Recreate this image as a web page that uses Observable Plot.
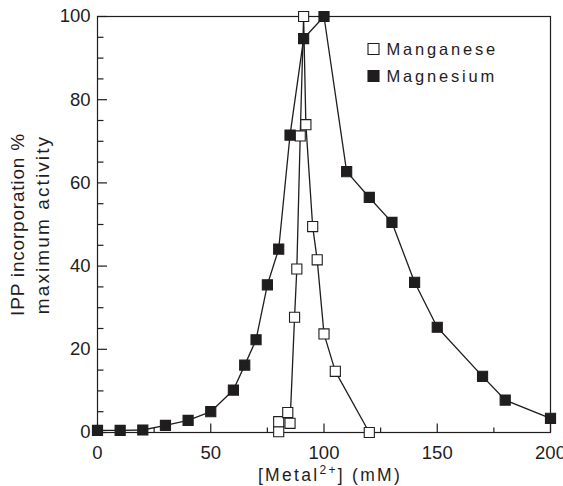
<!DOCTYPE html>
<html><head><meta charset="utf-8">
<script src="https://cdn.jsdelivr.net/npm/d3@7"></script>
<script src="https://cdn.jsdelivr.net/npm/@observablehq/plot@0.6"></script>
<style>body{margin:0;background:#fff}</style>
</head><body><div id="chart"></div>
<script>
const xTicks = [0, 50, 100, 150, 200];
const xMinorTicks = [25, 75, 125, 175];
const yTicks = [0, 20, 40, 60, 80, 100];
const yMinorTicks = [5, 10, 15, 25, 30, 35, 45, 50, 55, 65, 70, 75, 85, 90, 95];
const seriesNames = ["Manganese", "Magnesium"];
const xTitle = "[Metal2+] (mM)";
const yTitleLines = ["IPP incorporation %", "maximum activity"];

const mnConc = [80, 80, 84, 85, 87, 88, 89.5, 91, 92, 95, 97, 100, 105, 120];
const mnActivity = [0.2, 2.6, 4.8, 2.2, 27.7, 39.3, 71.3, 100, 74, 49.5, 41.5, 23.7, 14.7, 0];
const mgConc = [0, 10, 20, 30, 40, 50, 60, 65, 70, 75, 80, 85, 91, 100, 110, 120, 130, 140, 150, 170, 180, 200];
const mgActivity = [0.5, 0.5, 0.6, 1.7, 2.9, 5.0, 10.2, 16.2, 22.3, 35.5, 44.1, 71.5, 94.7, 100, 62.7, 56.5, 50.5, 36.1, 25.3, 13.5, 7.8, 3.4];

const mnData = mnConc.map((c, i) => ({metal: seriesNames[0], conc: c, act: mnActivity[i]}));
const mgData = mgConc.map((c, i) => ({metal: seriesNames[1], conc: c, act: mgActivity[i]}));

const ink = "#1f1d1e";
const fills = ["#fff", ink];

const legendMarks = seriesNames.flatMap((name, i) => [
  Plot.dot([name], {frameAnchor: "top-left", dx: 276, dy: 32.5 + 27 * i, symbol: "square", r: 6.2, fill: fills[i], stroke: ink, strokeWidth: 1.1}),
  Plot.text([name], {text: d => d, frameAnchor: "top-left", dx: 289, dy: 33 + 27 * i, textAnchor: "start", lineAnchor: "middle", fontSize: 16.5, fill: ink})
]);

const chart = Plot.plot({
  width: 563, height: 486,
  marginLeft: 97, marginRight: 13, marginTop: 16, marginBottom: 54,
  x: {domain: [0, 200], label: null},
  y: {domain: [0, 100], label: null},
  style: {fontFamily: "'Liberation Sans', Arial, sans-serif", fontSize: "18px", color: ink, background: "#fff"},
  marks: [
    Plot.axisX(xMinorTicks, {tickSize: -4.5, tickFormat: () => "", label: null, strokeWidth: 1.2}),
    Plot.axisX(xTicks, {tickSize: -8.5, tickFormat: () => "", label: null, strokeWidth: 1.2}),
    Plot.axisX(xTicks, {tickSize: 0, tickPadding: 13, label: null, fontSize: 18.5}),
    Plot.axisY(yMinorTicks, {tickSize: -6.5, tickFormat: () => "", label: null, strokeWidth: 1.2}),
    Plot.axisY(yTicks, {tickSize: -10, tickFormat: () => "", label: null, strokeWidth: 1.2}),
    Plot.axisY(yTicks, {tickSize: 0, tickPadding: 7, label: null, fontSize: 18.5}),
    Plot.frame({stroke: ink, strokeWidth: 1.2}),
    Plot.line(mnData, {x: "conc", y: "act", stroke: ink, strokeWidth: 1.3}),
    Plot.line(mgData, {x: "conc", y: "act", stroke: ink, strokeWidth: 1.3}),
    Plot.dot(mnData, {x: "conc", y: "act", symbol: "square", r: 5.7, fill: fills[0], stroke: ink, strokeWidth: 1.1}),
    Plot.dot(mgData, {x: "conc", y: "act", symbol: "square", r: 5.7, fill: fills[1], stroke: ink, strokeWidth: 1.1}),
    ...legendMarks,
    Plot.text([xTitle], {text: d => d, frameAnchor: "bottom", dx: 6, dy: 43, textAnchor: "middle", lineAnchor: "middle", fontSize: 17.5, fill: ink}),
    Plot.text([yTitleLines[0]], {text: d => d, frameAnchor: "left", dx: -79.5, rotate: -90, textAnchor: "middle", lineAnchor: "middle", fontSize: 19, fill: ink}),
    Plot.text([yTitleLines[1]], {text: d => d, frameAnchor: "left", dx: -55, rotate: -90, textAnchor: "middle", lineAnchor: "middle", fontSize: 19, fill: ink})
  ]
});
document.getElementById("chart").appendChild(chart);

const spacing = new Map([
  [seriesNames[0], "2.8px"], [seriesNames[1], "2.8px"],
  [yTitleLines[0], "0.8px"], [yTitleLines[1], "2.1px"], [xTitle, "2.3px"]
]);
d3.select(chart).selectAll("text").each(function() {
  const t = d3.select(this);
  const s = t.text();
  if (spacing.has(s)) t.style("letter-spacing", spacing.get(s));
  if (s === xTitle) {
    const m = s.match(/^(.*?)(\d\+)(.*)$/);
    t.text(null);
    t.append("tspan").text(m[1]);
    t.append("tspan").attr("dy", -7).attr("font-size", 12).text(m[2]);
    t.append("tspan").attr("dy", 7).text(m[3]);
  }
});
</script>
</body></html>
